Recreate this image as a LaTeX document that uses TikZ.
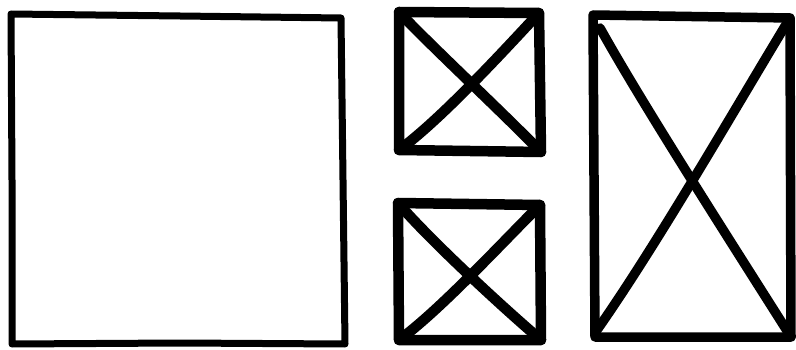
\documentclass[tikz,border=0pt]{standalone}
\begin{document}
\begin{tikzpicture}[x=1pt,y=-1pt,
  sketch/.style={draw=black,line cap=round,line join=round},
  thin sketch/.style={sketch,line width=7pt},
  mid sketch/.style={sketch,line width=9.5pt},
  thick sketch/.style={sketch,line width=10.5pt}]
\useasboundingbox (0,0) rectangle (796,350);
% left square
\draw[thin sketch] (11,14) -- (180,16) -- (341,18) -- (343,180) -- (345,344) -- (180,343) -- (12,344) -- (12,180) -- cycle;
% middle top box
\coordinate (a1) at (399,12);
\coordinate (a2) at (539,13);
\coordinate (a3) at (541,152);
\coordinate (a4) at (399,150);
\draw[thick sketch] (a1) -- (a2) -- (a3) -- (a4) -- cycle;
\draw[thick sketch] (a1) .. controls (430,45) and (500,110) .. (a3);
\draw[thick sketch] (a2) .. controls (500,55) and (440,120) .. (a4);
% middle bottom box
\coordinate (b1) at (398,203);
\coordinate (b2) at (540,205);
\coordinate (b3) at (541,340);
\coordinate (b4) at (399,340);
\draw[thick sketch] (b1) -- (b2) -- (b3) -- (b4) -- cycle;
\draw[thick sketch] (b1) .. controls (430,240) and (500,305) .. (b3);
\draw[thick sketch] (b2) .. controls (500,245) and (440,310) .. (b4);
% right rectangle
\coordinate (c1) at (593,15);
\coordinate (c2) at (790,18);
\coordinate (c3) at (791,337);
\coordinate (c4) at (595,337);
\draw[mid sketch] (c1) -- (c2) -- (c3) -- (c4) -- cycle;
\draw[mid sketch] (600,28) .. controls (640,100) and (720,225) .. (c3);
\draw[mid sketch] (c2) .. controls (740,100) and (660,240) .. (597,330);
\end{tikzpicture}
\end{document}
